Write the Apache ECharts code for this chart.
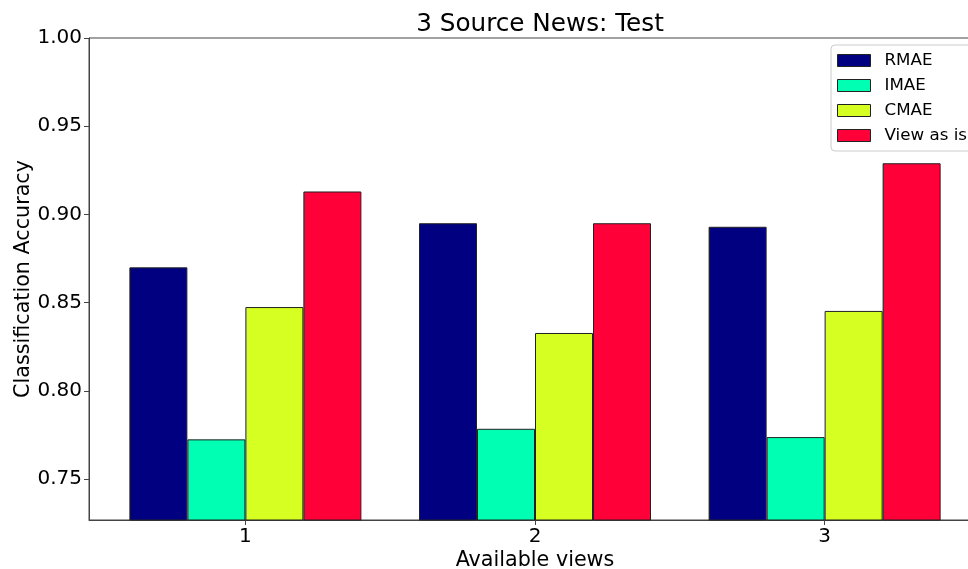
<!DOCTYPE html>
<html>
<head>
<meta charset="utf-8">
<title>3 Source News: Test</title>
<script src="https://cdn.jsdelivr.net/npm/echarts@6/dist/echarts.min.js"></script>
<style>
  html, body { margin: 0; padding: 0; background: #fff; }
  #chart { width: 968px; height: 569px; }
</style>
</head>
<body>
<div id="chart"></div>
<script>
// Available views (x positions 0,1,2 labelled 1,2,3)
const viewPositions = [0, 1, 2];
const viewLabels = ['1', '2', '3'];
const seriesNames = ['RMAE', 'IMAE', 'CMAE', 'View as is'];
const rmae = [0.870, 0.895, 0.893];
const imae = [0.7725, 0.7785, 0.7738];
const cmae = [0.8475, 0.8328, 0.8453];
const viewAsIs = [0.913, 0.895, 0.929];
const yTicks = [0.75, 0.80, 0.85, 0.90, 0.95, 1.00];
const colors = ['#000080', '#00FFB2', '#D6FF22', '#FF0038'];

const allValues = [rmae, imae, cmae, viewAsIs];
const font = 'DejaVu Sans';

const chart = echarts.init(document.getElementById('chart'), null, { renderer: 'canvas' });

const series = allValues.map((vals, i) => ({
  name: seriesNames[i],
  type: 'bar',
  data: viewPositions.map((x, j) => [x, vals[j]]),
  barWidth: 58,
  barGap: '0%',
  itemStyle: { color: colors[i], borderColor: '#222', borderWidth: 1 },
  emphasis: { disabled: true },
  animation: false
}));

chart.setOption({
  animation: false,
  textStyle: { fontFamily: font },
  title: {
    text: '3 Source News: Test',
    left: 535,
    textAlign: 'center',
    top: 7,
    textStyle: { fontFamily: font, fontSize: 24.7, fontWeight: 'normal', color: '#000' }
  },
  legend: {
    orient: 'vertical',
    left: 831,
    top: 45,
    data: seriesNames,
    icon: 'rect',
    itemWidth: 33,
    itemHeight: 12,
    itemGap: 6,
    padding: [6, 8, 6, 6],
    backgroundColor: '#fff',
    borderColor: '#ccc',
    borderWidth: 1,
    borderRadius: 4,
    itemStyle: { borderColor: '#222', borderWidth: 1 },
    textStyle: { fontFamily: font, fontSize: 16.7, color: '#000', padding: [0, 0, 0, 9], lineHeight: 19 }
  },
  grid: {
    left: 89,
    top: 38,
    bottom: 49,
    right: -13,
    show: true,
    borderColor: '#444',
    borderWidth: 1,
    containLabel: false,
    outerBoundsMode: 'none'
  },
  xAxis: {
    type: 'value',
    min: -0.54,
    max: 2.54,
    name: 'Available views',
    nameLocation: 'middle',
    nameGap: 30,
    nameMoveOverlap: false,
    nameTextStyle: { fontFamily: font, fontSize: 20.7, color: '#000' },
    axisLine: { show: true, onZero: false, lineStyle: { color: '#444', width: 1 } },
    axisTick: { show: true, inside: false, customValues: viewPositions, length: 5, lineStyle: { color: '#444' } },
    axisLabel: {
      customValues: viewPositions,
      formatter: v => viewLabels[viewPositions.indexOf(Math.round(v))],
      fontFamily: font, fontSize: 20, color: '#000', margin: 7
    },
    splitLine: { show: false }
  },
  yAxis: {
    type: 'value',
    min: 0.7268,
    max: 1.0,
    name: 'Classification Accuracy',
    nameLocation: 'middle',
    nameGap: 55,
    nameMoveOverlap: false,
    nameTextStyle: { fontFamily: font, fontSize: 20.7, color: '#000' },
    axisLine: { show: true, onZero: false, lineStyle: { color: '#444', width: 1 } },
    axisTick: { show: true, inside: false, customValues: yTicks, length: 5, lineStyle: { color: '#444' } },
    axisLabel: {
      customValues: yTicks,
      formatter: v => v.toFixed(2),
      fontFamily: font, fontSize: 20, color: '#000', margin: 7
    },
    splitLine: { show: false }
  },
  series: series
});
</script>
</body>
</html>
